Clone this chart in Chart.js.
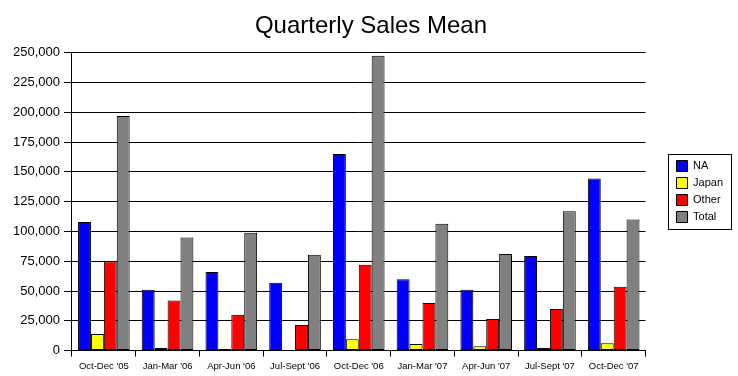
<!DOCTYPE html>
<html>
<head>
<meta charset="utf-8">
<script src="https://cdn.jsdelivr.net/npm/chart.js@4"></script>
<style>
  html, body { margin: 0; padding: 0; background: #fff; }
  #wrap { width: 738px; height: 376px; }
</style>
</head>
<body>
<div id="wrap"><canvas id="chart" width="738" height="376"></canvas></div>
<script>
// Chart data
const quarters = ["Oct-Dec '05", "Jan-Mar '06", "Apr-Jun '06", "Jul-Sept '06", "Oct-Dec '06",
                  "Jan-Mar '07", "Apr-Jun '07", "Jul-Sept '07", "Oct-Dec '07"];
const naValues = [108000, 51000, 66000, 57000, 165000, 60000, 51000, 79500, 144500];
const japanValues = [14000, 2200, 1400, 600, 9500, 5600, 3600, 2200, 6200];
const otherValues = [75000, 42000, 30000, 21500, 72000, 40000, 26500, 35000, 53500];
const totalValues = [197000, 95000, 99000, 80500, 247500, 106500, 81000, 117000, 110000];
const yTicks = [0, 25000, 50000, 75000, 100000, 125000, 150000, 175000, 200000, 225000, 250000];

const FONT = 'Arial, "Liberation Sans", sans-serif';

// Draws the framed box around the legend
const legendFrame = {
  id: 'legendFrame',
  afterDraw(chart) {
    const boxes = chart.legend && chart.legend.legendHitBoxes;
    if (!boxes || !boxes.length) return;
    const left = Math.min(...boxes.map(b => b.left));
    const right = Math.max(...boxes.map(b => b.left + b.width));
    const top = Math.min(...boxes.map(b => b.top));
    const bottom = Math.max(...boxes.map(b => b.top + b.height));
    const ctx = chart.ctx;
    ctx.save();
    ctx.strokeStyle = '#000';
    ctx.lineWidth = 1;
    ctx.strokeRect(Math.round(left - 9) + 0.5, Math.round(top - 7) + 0.5,
                   Math.round(right - left + 17), Math.round(bottom - top + 13));
    ctx.restore();
  }
};

function makeSet(label, data, color) {
  return {
    label: label,
    data: data,
    backgroundColor: color,
    borderColor: '#000',
    borderWidth: 1,
    borderSkipped: false,
    categoryPercentage: 0.81,
    barPercentage: 1.0
  };
}

new Chart(document.getElementById('chart'), {
  type: 'bar',
  data: {
    labels: quarters,
    datasets: [
      makeSet('NA', naValues, '#0000ff'),
      makeSet('Japan', japanValues, '#ffff00'),
      makeSet('Other', otherValues, '#ff0000'),
      makeSet('Total', totalValues, '#808080')
    ]
  },
  options: {
    responsive: false,
    animation: false,
    devicePixelRatio: 1,
    layout: {
      padding: { left: 9, right: 5, top: 0, bottom: 0 }
    },
    plugins: {
      title: {
        display: true,
        text: 'Quarterly Sales Mean',
        color: '#000',
        font: { family: FONT, size: 24, weight: 'normal', lineHeight: 1.2 },
        padding: { top: 12, bottom: 12 }
      },
      legend: {
        position: 'right',
        // blank title only pushes the items down a little
        title: {
          display: true,
          text: ' ',
          font: { family: FONT, size: 1, lineHeight: 1 },
          padding: { top: 0, bottom: 6 }
        },
        labels: {
          color: '#000',
          boxWidth: 11,
          boxHeight: 11,
          padding: 6,
          font: { family: FONT, size: 11 }
        }
      },
      tooltip: { enabled: false }
    },
    scales: {
      x: {
        grid: {
          display: true,
          drawOnChartArea: false,
          drawTicks: true,
          tickLength: 6,
          color: '#000'
        },
        border: { color: '#000', width: 1 },
        ticks: {
          color: '#000',
          padding: 4,
          maxRotation: 0,
          autoSkip: false,
          font: { family: FONT, size: 9.5 }
        }
      },
      y: {
        min: 0,
        max: 250000,
        afterBuildTicks: (axis) => {
          axis.ticks = yTicks.map(v => ({ value: v }));
        },
        grid: {
          color: '#000',
          tickLength: 8
        },
        border: { color: '#000', width: 1 },
        ticks: {
          color: '#000',
          padding: 4,
          font: { family: FONT, size: 13 },
          callback: (value) => Number(value).toLocaleString('en-US')
        }
      },
      // empty spacer between plot and legend
      gap: {
        position: 'right',
        display: true,
        grid: { display: false },
        border: { display: false },
        ticks: { display: false },
        afterFit: (axis) => { axis.width = 25; }
      }
    }
  },
  plugins: [legendFrame]
});
</script>
</body>
</html>
